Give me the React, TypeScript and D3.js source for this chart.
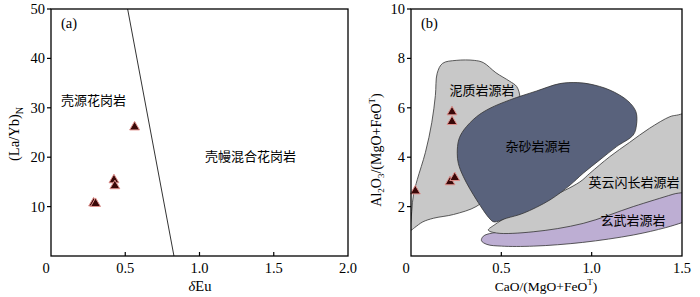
import React from "react";
import * as d3 from "d3";

// Panel (a): δEu vs (La/Yb)N
const aPointsX = [0.287, 0.30, 0.424, 0.43, 0.563];
const aPointsY = [10.9, 10.8, 15.6, 14.4, 26.3];
const aDivider: [number, number][] = [[0.516, 50], [0.828, 0]];
const aXTicks = [0, 0.5, 1.0, 1.5, 2.0];
const aYTicks = [10, 20, 30, 40, 50];

// Panel (b): CaO/(MgO+FeOT) vs Al2O3/(MgO+FeOT)
const bPointsX = [0.024, 0.227, 0.227, 0.216, 0.242];
const bPointsY = [2.67, 5.87, 5.48, 3.04, 3.21];
const bXTicks = [0, 0.5, 1.0, 1.5];
const bYTicks = [2, 4, 6, 8, 10];

const pelite: [number, number][] = [
  [0, 1.05], [0.004, 1.8], [0.014, 2.5], [0.035, 3.1], [0.08, 4.2], [0.115, 5.4],
  [0.135, 6.5], [0.145, 7.4], [0.175, 7.8], [0.25, 7.92], [0.35, 7.92], [0.40, 7.83],
  [0.47, 7.42], [0.545, 7.08], [0.585, 6.86], [0.603, 6.45], [0.6, 5.9], [0.5, 4.0],
  [0.42, 2.4], [0.36, 2.0], [0.235, 1.68], [0.125, 1.53], [0.065, 1.38], [0.02, 1.15],
];
const greywacke: [number, number][] = [
  [0.256, 4.16], [0.264, 4.7], [0.292, 5.1], [0.363, 5.64], [0.437, 5.98], [0.548, 6.32],
  [0.695, 6.68], [0.824, 6.98], [0.92, 7.02], [0.99, 6.96], [1.10, 6.72], [1.20, 6.28],
  [1.245, 5.84], [1.248, 5.3], [1.23, 4.9], [1.138, 4.43], [1.045, 3.89], [0.953, 3.35],
  [0.88, 2.87], [0.769, 2.27], [0.621, 1.73], [0.529, 1.53], [0.46, 1.38], [0.437, 1.5],
  [0.363, 2.27], [0.29, 3.21], [0.262, 3.75],
];
const tonalite: [number, number][] = [
  [0.428, 1.05], [0.474, 0.93], [0.676, 0.98], [0.953, 1.32], [1.23, 2.0], [1.45, 2.5],
  [1.56, 2.75], [1.56, 5.74], [1.47, 5.7], [1.433, 5.64], [1.32, 5.17], [1.21, 4.6],
  [1.10, 4.02], [0.99, 3.35], [0.935, 3.0], [0.75, 2.3], [0.55, 1.65], [0.46, 1.25],
];
const basalt: [number, number][] = [
  [0.39, 0.62], [0.42, 0.47], [0.5, 0.4], [0.68, 0.4], [0.95, 0.55], [1.23, 0.85],
  [1.41, 1.15], [1.5, 1.35], [1.56, 1.5], [1.56, 2.8], [1.2, 2.05], [0.9, 1.35],
  [0.6, 1.02], [0.45, 0.93], [0.40, 0.8],
];

const serif = "'Liberation Serif', 'DejaVu Serif', serif";
const cjk = "'Noto Sans CJK SC', sans-serif";

const W = 700, H = 297;
const top = 9, bottom = 256;

function Tri({ x, y }: { x: number; y: number }) {
  const p = d3.symbol(d3.symbolTriangle, 42)() as string;
  return (
    <path d={p} transform={`translate(${x},${y + 1})`} fill="#3a0808" stroke="#e0908c" strokeWidth={1} />
  );
}

export default function App() {
  const ax = d3.scaleLinear().domain([0, 2]).range([51, 348]);
  const ay = d3.scaleLinear().domain([0, 50]).range([bottom, top]);
  const bx = d3.scaleLinear().domain([0, 1.5]).range([411, 682]);
  const by = d3.scaleLinear().domain([0, 10]).range([bottom, top]);

  const area = (pts: [number, number][]) =>
    d3.line<[number, number]>()
      .x((d) => bx(d[0]))
      .y((d) => by(d[1]))
      .curve(d3.curveCatmullRomClosed.alpha(0.5))(pts) as string;

  const fmt = (v: number) => (v === 0 ? "0" : v.toFixed(1));

  return (
    <svg width={W} height={H} style={{ position: "absolute", left: 0, top: 0, background: "#fff" }}>
      <defs>
        <clipPath id="clipB">
          <rect x={bx(0)} y={top} width={bx(1.5) - bx(0)} height={bottom - top} />
        </clipPath>
      </defs>

      {/* Panel a */}
      <line x1={ax(aDivider[0][0])} y1={ay(aDivider[0][1])} x2={ax(aDivider[1][0])} y2={ay(aDivider[1][1])} stroke="#333" strokeWidth={1} />
      {aPointsX.map((x, i) => <Tri key={i} x={ax(x)} y={ay(aPointsY[i])} />)}
      <rect x={ax(0)} y={top} width={ax(2) - ax(0)} height={bottom - top} fill="none" stroke="#000" strokeWidth={1.3} />
      {aXTicks.map((t) => (
        <g key={t}>
          {t > 0 && t < 2 && <line x1={ax(t)} x2={ax(t)} y1={bottom} y2={bottom - 4} stroke="#000" strokeWidth={1.2} />}
          <text x={t === 0 ? ax(t) - 5 : ax(t)} y={273} textAnchor="middle" fontFamily={serif} fontSize={14.5}>{fmt(t)}</text>
        </g>
      ))}
      {aYTicks.map((t) => (
        <g key={t}>
          <line x1={ax(0) - 4} x2={ax(0)} y1={ay(t)} y2={ay(t)} stroke="#000" strokeWidth={1.2} />
          <text x={ax(0) - 6} y={ay(t) + 5} textAnchor="end" fontFamily={serif} fontSize={14.5}>{t}</text>
        </g>
      ))}
      <text x={200} y={291} textAnchor="middle" fontFamily={serif} fontSize={14.5}>
        <tspan fontStyle="italic">δ</tspan>Eu
      </text>
      <text transform={`translate(19,134) rotate(-90)`} textAnchor="middle" fontFamily={serif} fontSize={14.5}>
        (La/Yb)<tspan fontSize={10} dy={4}>N</tspan>
      </text>
      <text x={61} y={28} fontFamily={serif} fontSize={14.5}>(a)</text>
      <text x={61} y={105} fontFamily={cjk} fontSize={13}>壳源花岗岩</text>
      <text x={205} y={161} fontFamily={cjk} fontSize={13}>壳幔混合花岗岩</text>

      {/* Panel b */}
      <g clipPath="url(#clipB)">
        <path d={area(pelite)} fill="#c8c8c8" stroke="#333" strokeWidth={0.8} />
        <path d={area(basalt)} fill="#bdaed3" stroke="#333" strokeWidth={0.8} />
        <path d={area(tonalite)} fill="#c8c8c8" stroke="#333" strokeWidth={0.8} />
        <path d={area(greywacke)} fill="#59627c" stroke="#333" strokeWidth={0.8} />
      </g>
      {bPointsX.map((x, i) => <Tri key={i} x={bx(x)} y={by(bPointsY[i])} />)}
      <rect x={bx(0)} y={top} width={bx(1.5) - bx(0)} height={bottom - top} fill="none" stroke="#000" strokeWidth={1.3} />
      {bXTicks.map((t) => (
        <g key={t}>
          {t > 0 && t < 1.5 && <line x1={bx(t)} x2={bx(t)} y1={bottom} y2={bottom - 4} stroke="#000" strokeWidth={1.2} />}
          <text x={t === 0 ? bx(t) - 5 : bx(t)} y={273} textAnchor="middle" fontFamily={serif} fontSize={14.5}>{fmt(t)}</text>
        </g>
      ))}
      {bYTicks.map((t) => (
        <g key={t}>
          <line x1={bx(0) - 4} x2={bx(0)} y1={by(t)} y2={by(t)} stroke="#000" strokeWidth={1.2} />
          <text x={bx(0) - 6} y={by(t) + 5} textAnchor="end" fontFamily={serif} fontSize={14.5}>{t}</text>
        </g>
      ))}
      <text x={546} y={291} textAnchor="middle" fontFamily={serif} fontSize={13.5}>
        CaO/(MgO+FeO<tspan fontSize={9} dy={-6}>T</tspan><tspan dy={6}>)</tspan>
      </text>
      <text transform={`translate(381,150) rotate(-90)`} textAnchor="middle" fontFamily={serif} fontSize={14}>
        Al<tspan fontSize={9} dy={3}>2</tspan><tspan dy={-3}>O</tspan><tspan fontSize={9} dy={3}>3</tspan><tspan dy={-3}>/(MgO+FeO</tspan><tspan fontSize={9} dy={-6}>T</tspan><tspan dy={6}>)</tspan>
      </text>
      <text x={421} y={28} fontFamily={serif} fontSize={14.5}>(b)</text>
      <text x={482} y={95} textAnchor="middle" fontFamily={cjk} fontSize={13}>泥质岩源岩</text>
      <text x={538} y={151} textAnchor="middle" fontFamily={cjk} fontSize={13}>杂砂岩源岩</text>
      <text x={634} y={187} textAnchor="middle" fontFamily={cjk} fontSize={13}>英云闪长岩源岩</text>
      <text x={633} y={225} textAnchor="middle" fontFamily={cjk} fontSize={13}>玄武岩源岩</text>
    </svg>
  );
}
